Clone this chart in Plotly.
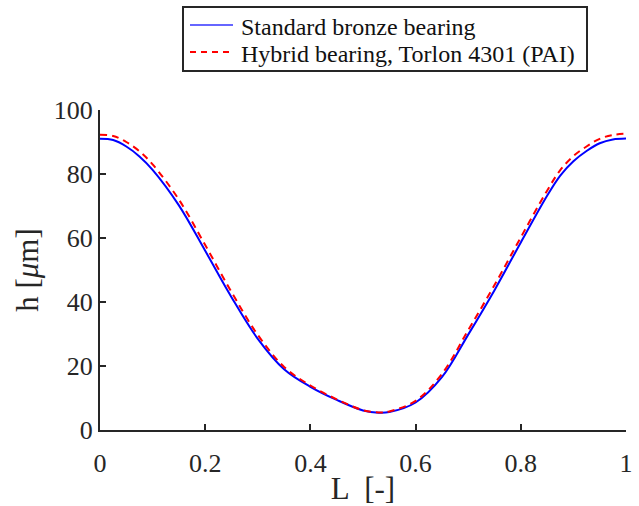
import plotly.graph_objects as go

L_std = [0, 0.025, 0.05, 0.075, 0.1, 0.15, 0.2, 0.25, 0.3, 0.35, 0.4, 0.45, 0.5, 0.53,
         0.55, 0.6, 0.65, 0.7, 0.75, 0.8, 0.85, 0.875, 0.9, 0.925, 0.95, 0.975, 1.0]
h_std = [91.0, 90.6, 88.6, 85.5, 81.3, 70.2, 56.0, 41.5, 28.5, 19.0, 13.5, 9.4, 6.1, 5.4,
         5.6, 8.6, 16.5, 29.8, 43.7, 58.6, 73.2, 79.5, 84.0, 87.2, 89.6, 90.8, 91.1]

L_hyb = [0, 0.025, 0.05, 0.075, 0.1, 0.15, 0.2, 0.25, 0.3, 0.35, 0.4, 0.45, 0.5, 0.53,
         0.55, 0.6, 0.65, 0.7, 0.75, 0.8, 0.85, 0.875, 0.9, 0.925, 0.95, 0.975, 1.0]
h_hyb = [92.3, 91.9, 90.0, 87.1, 83.0, 72.0, 57.8, 43.1, 29.7, 19.7, 13.9, 9.6, 6.2, 5.5,
         5.8, 9.1, 17.5, 31.2, 45.3, 60.2, 74.8, 81.2, 85.6, 88.6, 91.0, 92.2, 92.6]

series_names = ["Standard bronze bearing", "Hybrid bearing, Torlon 4301 (PAI)"]
x_ticks = [0, 0.2, 0.4, 0.6, 0.8, 1]
x_ticklabels = ["0", "0.2", "0.4", "0.6", "0.8", "1"]
y_ticks = [0, 20, 40, 60, 80, 100]

FONT = "Liberation Serif, Times New Roman, serif"
AX = "#262626"
W, H = 639, 506
ML, MR, MT, MB = 100, 13, 110, 76
PW, PH = W - ML - MR, H - MT - MB


def px(xp):
    return (xp - ML) / PW


def py(yp):
    return (H - MB - yp) / PH


fig = go.Figure()
fig.add_trace(go.Scatter(x=L_std, y=h_std, mode="lines", name=series_names[0],
                         line=dict(color="#0000ff", width=2, shape="spline", smoothing=1.0)))
fig.add_trace(go.Scatter(x=L_hyb, y=h_hyb, mode="lines", name=series_names[1],
                         line=dict(color="#ff0000", width=2, dash="7px,5px", shape="spline", smoothing=1.0)))

# legend box (MATLAB style) drawn in paper coordinates
box = dict(x0=183, x1=587, y0=7, y1=71)
rows = [26, 53]
fig.add_shape(type="rect", xref="paper", yref="paper",
              x0=px(box["x0"]), x1=px(box["x1"]), y0=py(box["y1"]), y1=py(box["y0"]),
              line=dict(color=AX, width=2), fillcolor="white", layer="above")
legend_styles = [dict(color="#3333ff", width=1.3), dict(color="#ff0000", width=2, dash="6px,5px")]
for name, row, sty in zip(series_names, rows, legend_styles):
    fig.add_shape(type="line", xref="paper", yref="paper",
                  x0=px(190), x1=px(233), y0=py(row - 1), y1=py(row - 1),
                  line=sty, layer="above")
    fig.add_annotation(xref="paper", yref="paper", x=px(239), y=py(row + 1),
                       xanchor="left", yanchor="middle", showarrow=False,
                       text=name, font=dict(family=FONT, size=24, color="#111111"))

fig.update_layout(
    width=W, height=H,
    margin=dict(l=ML, r=MR, t=MT, b=MB),
    paper_bgcolor="white", plot_bgcolor="white",
    font=dict(family=FONT, size=26, color=AX),
    showlegend=False,
    xaxis=dict(range=[0, 1], tickvals=x_ticks, ticktext=x_ticklabels, automargin=False,
               showgrid=False, zeroline=False, showline=True, linecolor=AX, linewidth=2,
               ticks="inside", ticklen=6, tickwidth=2, tickcolor=AX, ticklabelstandoff=9,
               title=dict(text="L  [-]", standoff=2), tickfont=dict(size=26)),
    yaxis=dict(range=[0, 100], tickvals=y_ticks, automargin=False,
               showgrid=False, zeroline=False, showline=True, linecolor=AX, linewidth=2,
               ticks="inside", ticklen=6, tickwidth=2, tickcolor=AX,
               title=dict(text="h [<i>μ</i>m]", standoff=6), tickfont=dict(size=26)),
)

fig.write_html("out.html")
